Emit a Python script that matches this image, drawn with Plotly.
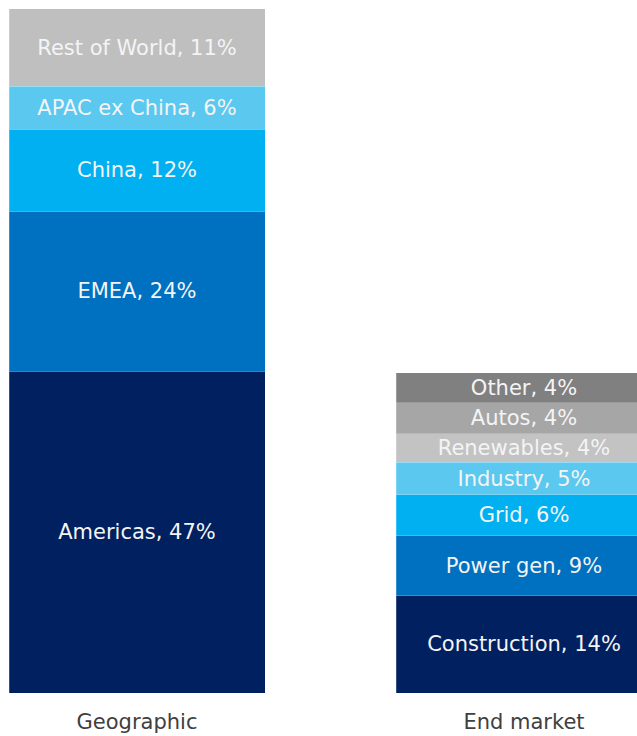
import plotly.graph_objects as go

categories = ["Geographic", "End market"]

geo_labels = ["Americas", "EMEA", "China", "APAC ex China", "Rest of World"]
geo_values = [47.0, 23.4, 12.0, 6.3, 11.3]
geo_text = ["47%", "24%", "12%", "6%", "11%"]
geo_colors = ["#002060", "#0070c0", "#00b0f0", "#5bc8f0", "#bfbfbf"]

end_labels = ["Construction", "Power gen", "Grid", "Industry", "Renewables", "Autos", "Other"]
end_values = [14.2, 8.8, 6.0, 4.7, 4.2, 4.5, 4.4]
end_text = ["14%", "9%", "6%", "5%", "4%", "4%", "4%"]
end_colors = ["#002060", "#0070c0", "#00b0f0", "#5bc8f0", "#c3c3c3", "#a6a6a6", "#808080"]

FONT = "DejaVu Sans"
fig = go.Figure()

def add_segments(cat, labels, values, texts, colors):
    for lab, v, t, c in zip(labels, values, texts, colors):
        fig.add_trace(go.Bar(
            x=[cat], y=[v], name=lab,
            text=[f"{lab}, {t}"], textposition="inside",
            insidetextanchor="middle", textangle=0,
            constraintext="none",
            textfont=dict(family=FONT, size=21, color="#f4f4f4"),
            marker=dict(color=c, line=dict(width=0.6, color="rgba(255,255,255,0.35)")),
            width=0.6615, hoverinfo="skip", showlegend=False,
        ))

add_segments(categories[0], geo_labels, geo_values, geo_text, geo_colors)
add_segments(categories[1], end_labels, end_values, end_text, end_colors)

fig.update_layout(
    barmode="stack",
    width=637, height=736,
    margin=dict(l=0, r=0, t=0, b=43),
    paper_bgcolor="white", plot_bgcolor="white",
    uniformtext=dict(minsize=21, mode="show"),
    xaxis=dict(type="category", categoryorder="array", categoryarray=categories,
               range=[-0.354, 1.292], showgrid=False, zeroline=False, showline=False,
               ticks="outside", ticklen=10, tickcolor="rgba(0,0,0,0)",
               tickfont=dict(family=FONT, size=21, color="#404040")),
    yaxis=dict(range=[0, 101.3], visible=False, showgrid=False, zeroline=False),
)

fig.write_html("out.html", config={"displayModeBar": False},
               post_script="document.body.style.margin='0px';document.body.style.overflow='hidden';")
